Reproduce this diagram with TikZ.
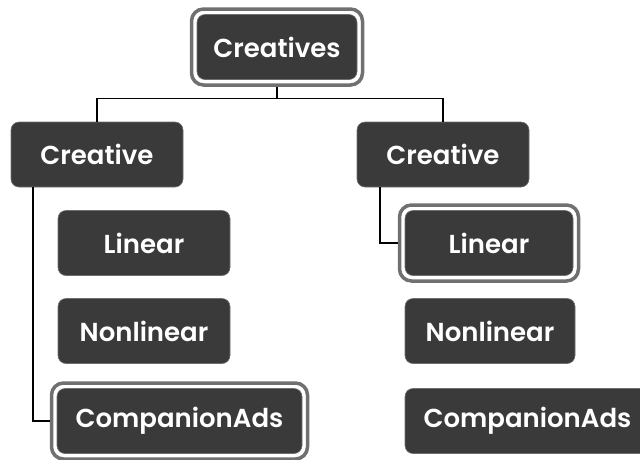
\documentclass[tikz,border=0pt]{standalone}
\usepackage{fontspec}
\setmainfont{Poppins}
\newfontfamily\boxfont{Poppins SemiBold}
\usetikzlibrary{calc, positioning, fit}
\definecolor{boxgray}{HTML}{3A3A3A}
\definecolor{edgegray}{HTML}{6E6E6E}
\definecolor{halogray}{HTML}{707070}

\tikzset{
    xmlbox/.style={fill=boxgray, draw=edgegray, line width=0.6pt, rounded corners=8pt,
        text=white, font=\fontsize{26}{30}\boxfont,
        minimum width=172pt, minimum height=65pt, inner xsep=14pt, outer sep=0pt},
    halo/.style={draw=halogray, line width=3.5pt, rounded corners=12pt, inner sep=5.5pt},
    link/.style={black, line width=1.3pt}
}

\begin{document}
\begin{tikzpicture}[x=1pt, y=-1pt]
    \useasboundingbox (0,0) rectangle (640,459);

    % Root element
    \node[xmlbox, minimum width=160pt] (root) at (277,47) {Creatives};
    \node[halo, fit=(root)] (rootHalo) {};

    % Two creatives
    \node[xmlbox] (crL) at (97,154.5) {Creative};
    \node[xmlbox] (crR) at (443,154.5) {Creative};

    % Children, left column
    \node[xmlbox, anchor=west] (linL) at (58,243) {Linear};
    \node[xmlbox, anchor=west] (nonL) at (58,331) {Nonlinear};
    \node[xmlbox, anchor=west, minimum width=245pt] (compL) at (57,421) {CompanionAds};
    \node[halo, fit=(compL)] (compHalo) {};

    % Children, right column
    \node[xmlbox, anchor=west, minimum width=168pt] (linR) at (405,243) {Linear};
    \node[halo, fit=(linR)] (linHalo) {};
    \node[xmlbox, anchor=west, minimum width=170pt] (nonR) at (405,331) {Nonlinear};
    \node[xmlbox, anchor=west, minimum width=245pt] (compR) at (405,421) {CompanionAds};

    % Connectors
    \draw[link] (rootHalo.south) -- ++(0,12) coordinate (bus) -| (crL.north);
    \draw[link] (bus) -| (crR.north);
    \draw[link] ([xshift=22pt]crL.south west) |- (compHalo.west);
    \draw[link] ([xshift=23pt]crR.south west) |- (linHalo.west);
\end{tikzpicture}
\end{document}
